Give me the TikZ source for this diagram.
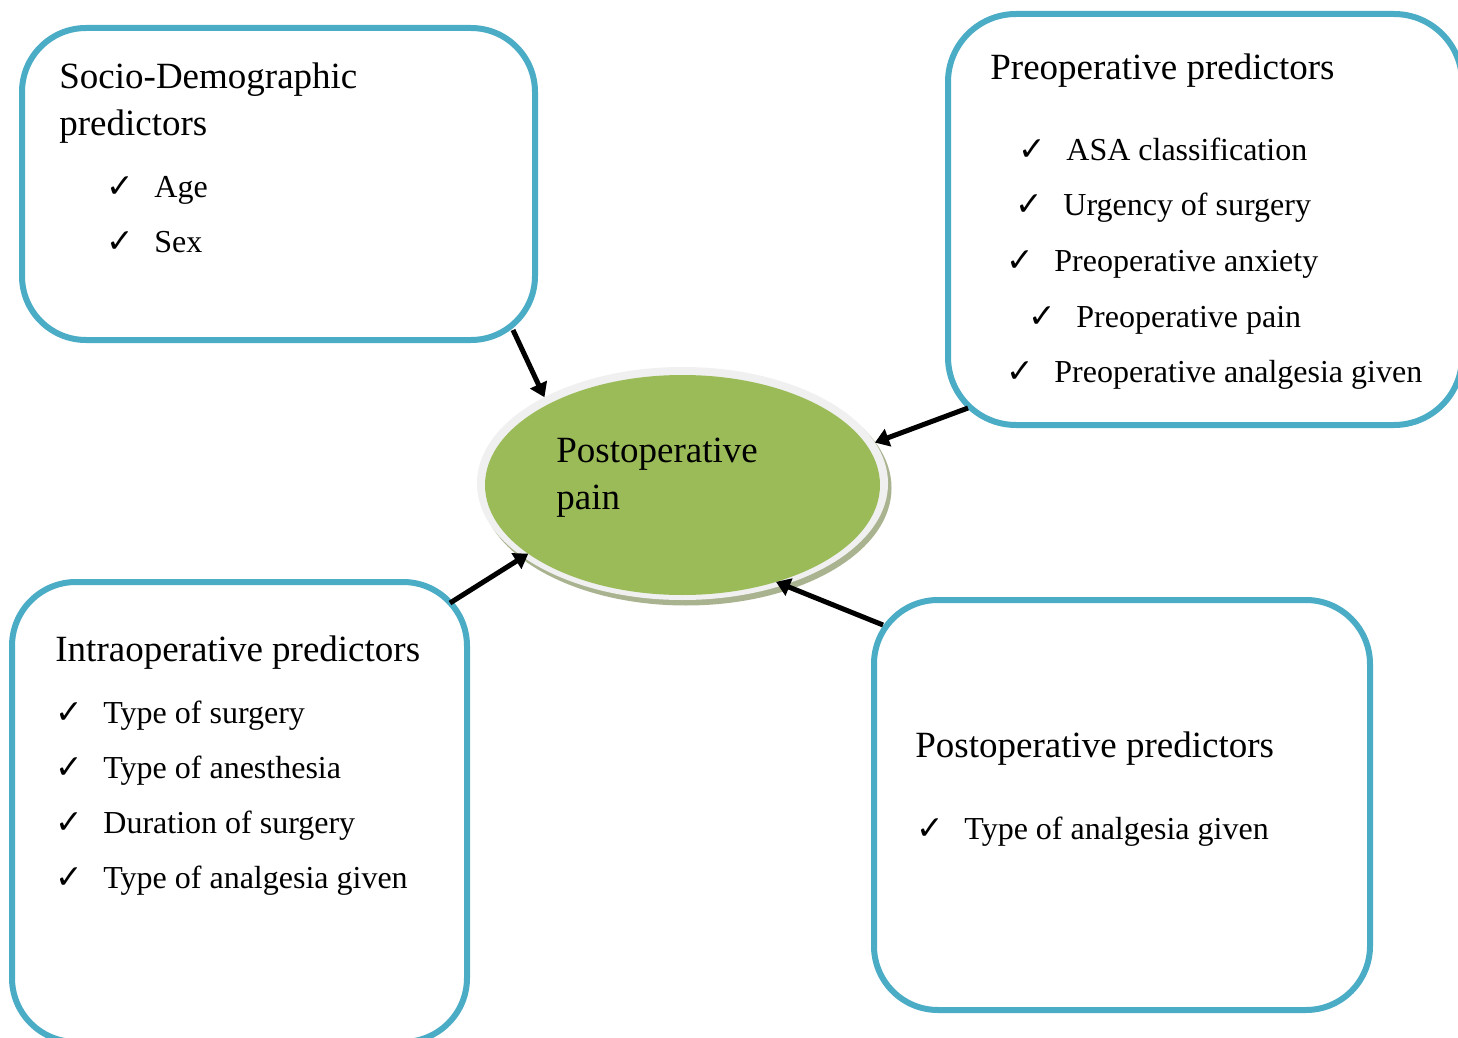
\documentclass[tikz,border=0pt]{standalone}
\usepackage{fontspec}
\setmainfont{Liberation Serif}
\newfontfamily\dejavu{DejaVu Sans}
\usetikzlibrary{arrows.meta,calc,shapes.geometric}
\definecolor{boxblue}{HTML}{4BACC6}
\definecolor{ellgreen}{HTML}{9BBB59}
\definecolor{ringgray}{HTML}{F0F0F0}
\definecolor{shadowgray}{HTML}{A9B38F}
\newcommand{\chk}{{\dejavu\fontsize{16.5}{16.5}\selectfont ✓}}
\newcommand{\twolines}[3]{\vtop{\baselineskip=#3\hbox{#1}\hbox{#2}}}
\newcommand{\itm}[1]{\makebox[24pt][l]{\chk}#1}
\begin{document}
\begin{tikzpicture}[x=0.5pt,y=-0.5pt,
  predbox/.style={draw=boxblue, line width=3pt, rounded corners=32pt, fill=white, inner sep=0pt, outer sep=0pt},
  title/.style={anchor=base west, inner sep=0pt, font=\fontsize{18.5}{23.5}\selectfont},
  item/.style={anchor=base west, inner sep=0pt, font=\fontsize{16}{20}\selectfont},
  arr/.style={line width=2.5pt, -{Triangle[length=7pt,width=9pt]}}]
\useasboundingbox (0,0) rectangle (1458,1038);
\clip (0,0) rectangle (1458,1038);
\fill[white] (0,0) rectangle (1458,1038);

% boxes
\node[predbox, minimum width=256.5pt, minimum height=156pt] (b1) at (278.5,184) {};
\node[predbox, minimum width=257pt, minimum height=205.5pt, rounded corners=34pt] (b2) at (1205,219.5) {};
\node[predbox, minimum width=227.5pt, minimum height=230pt] (b3) at (239.5,812) {};
\node[predbox, minimum width=248pt, minimum height=205pt] (b4) at (1122,805) {};

% central ellipse
\fill[shadowgray] (686,488) ellipse [x radius=205.5, y radius=117.5];
\node[ellipse, fill=ringgray, minimum width=205.5pt, minimum height=116.5pt, inner sep=0pt, outer sep=0pt] (pain) at (682.5,483.5) {};
\node[ellipse, fill=ellgreen, minimum width=197.5pt, minimum height=110pt, inner sep=0pt, outer sep=0pt] (core) at (682.5,485) {};
\node[title] (paintext) at (556,462) {\twolines{Postoperative}{pain}{23.5pt}};

% arrows
\draw[arr] ([shift={(-22,-10)}]b1.south east) -- (pain.148);
\draw[arr] ([shift={(20,-17)}]b2.south west) -- (pain.12);
\draw[arr] ([shift={(-17,21)}]b3.north east) -- (core.204.5);
\draw[arr] ([shift={(9,25)}]b4.north west) -- (core.314.3);

% socio-demographic
\node[title] (t1) at (59,89) {\twolines{Socio-Demographic}{predictors}{23.5pt}};
\node[item] (i11) at (106,198) {\itm{Age}};
\node[item] (i12) at (106,253) {\itm{Sex}};

% preoperative
\node[title] (t2) at (990,80) {Preoperative predictors};
\node[item] (i21) at (1018,161) {\itm{ASA classification}};
\node[item] (i22) at (1015,216) {\itm{Urgency of surgery}};
\node[item] (i23) at (1006,271) {\itm{Preoperative anxiety}};
\node[item] (i24) at (1028,327) {\itm{Preoperative pain}};
\node[item] (i25) at (1006,382) {\itm{Preoperative analgesia given}};

% intraoperative
\node[title] (t3) at (55,661) {Intraoperative predictors};
\node[item] (i31) at (55,723) {\itm{Type of surgery}};
\node[item] (i32) at (55,778) {\itm{Type of anesthesia}};
\node[item] (i33) at (55,833) {\itm{Duration of surgery}};
\node[item] (i34) at (55,888) {\itm{Type of analgesia given}};

% postoperative
\node[title] (t4) at (915,757) {Postoperative predictors};
\node[item] (i41) at (916,839) {\itm{Type of analgesia given}};
\end{tikzpicture}
\end{document}
